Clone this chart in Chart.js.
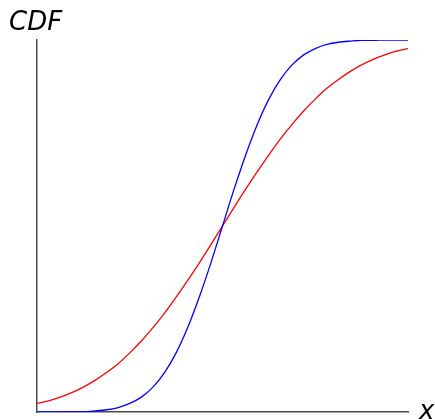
<!DOCTYPE html>
<html>
<head>
<meta charset="utf-8">
<script src="https://cdn.jsdelivr.net/npm/chart.js@4/dist/chart.umd.min.js"></script>
<style>
  html, body { margin: 0; padding: 0; background: #ffffff; }
  #wrap { width: 435px; height: 420px; }
</style>
</head>
<body>
<div id="wrap"><canvas id="cdf" width="435" height="420"></canvas></div>
<script>
// x positions of the sampled points
const xValues = [-4, -3.75, -3.5, -3.25, -3, -2.75, -2.5, -2.25, -2, -1.75, -1.5, -1.25, -1, -0.75, -0.5, -0.25,
                 0, 0.25, 0.5, 0.75, 1, 1.25, 1.5, 1.75, 2, 2.25, 2.5, 2.75, 3, 3.25, 3.5, 3.75, 4];

// narrow distribution (blue)
const narrowCdf = [0.000, 0.000, 0.000, 0.001, 0.001, 0.003, 0.006, 0.012, 0.023, 0.040, 0.067, 0.106, 0.159, 0.227, 0.309, 0.401,
                   0.500, 0.599, 0.691, 0.773, 0.841, 0.894, 0.933, 0.960, 0.977, 0.988, 0.994, 0.997, 0.999, 0.999, 1.000, 1.000, 1.000];

// wide distribution (red)
const wideCdf = [0.023, 0.030, 0.040, 0.052, 0.067, 0.085, 0.106, 0.130, 0.159, 0.191, 0.227, 0.266, 0.309, 0.354, 0.401, 0.450,
                 0.500, 0.550, 0.599, 0.646, 0.691, 0.734, 0.773, 0.809, 0.841, 0.870, 0.894, 0.915, 0.933, 0.948, 0.960, 0.970, 0.977];

const axisLabels = { y: 'CDF', x: 'x' };

const toPoints = (ys) => xValues.map((x, i) => ({ x: x, y: ys[i] }));

// axis captions drawn at the ends of the axes
const axisCaptions = {
  id: 'axisCaptions',
  afterDraw(chart) {
    const { ctx, chartArea } = chart;
    ctx.save();
    ctx.fillStyle = '#000000';
    ctx.font = 'italic 26px "DejaVu Sans"';
    ctx.textBaseline = 'alphabetic';
    ctx.textAlign = 'left';
    ctx.fillText(axisLabels.y, chartArea.left - 28, chartArea.top - 10);
    ctx.fillText(axisLabels.x, chartArea.right + 11, chartArea.bottom + 7);
    ctx.restore();
  }
};

new Chart(document.getElementById('cdf'), {
  type: 'line',
  data: {
    datasets: [
      {
        data: toPoints(narrowCdf),
        borderColor: '#0000ff',
        borderWidth: 1.3,
        pointRadius: 0,
        cubicInterpolationMode: 'monotone',
        fill: false
      },
      {
        data: toPoints(wideCdf),
        borderColor: '#ff0000',
        borderWidth: 1.3,
        pointRadius: 0,
        cubicInterpolationMode: 'monotone',
        fill: false
      }
    ]
  },
  options: {
    responsive: false,
    animation: false,
    layout: { padding: { left: 29, right: 27, top: 40, bottom: 0 } },
    plugins: { legend: { display: false }, tooltip: { enabled: false } },
    scales: {
      x: {
        type: 'linear',
        min: -4,
        max: 4,
        grid: { display: false },
        ticks: { display: false },
        border: { display: true, color: '#4a4a4a', width: 1.5 }
      },
      y: {
        min: 0,
        max: 1,
        grid: { display: false },
        ticks: { display: false },
        border: { display: true, color: '#4a4a4a', width: 1.5 }
      }
    }
  },
  plugins: [axisCaptions]
});
</script>
</body>
</html>
